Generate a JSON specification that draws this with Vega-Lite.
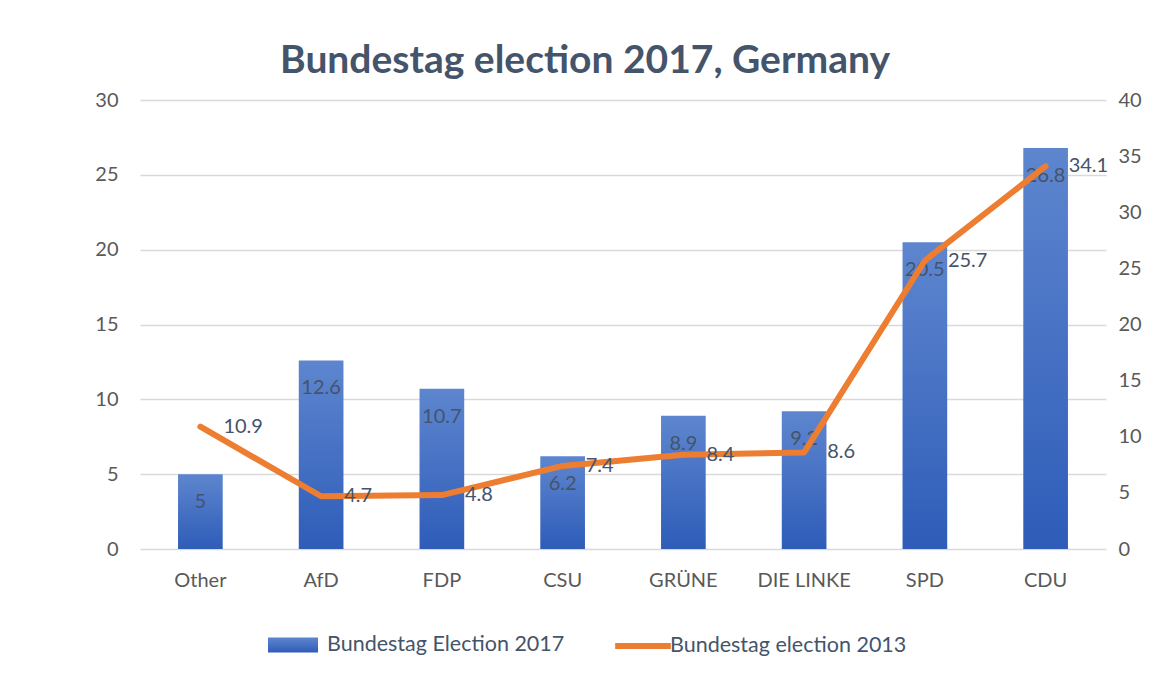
{
  "$schema": "https://vega.github.io/schema/vega-lite/v6.json",
  "autosize": {"type": "none"},
  "width": 966,
  "height": 449,
  "padding": {"left": 140, "top": 100, "right": 54, "bottom": 128},
  "background": "white",
  "config": {
    "font": "Lato",
    "view": {"stroke": null},
    "axis": {"labelFont": "Lato", "labelColor": "#595959", "labelFontSize": 20, "domain": false, "ticks": false, "title": null},
    "legend": {"labelFont": "Lato", "labelFontSize": 21.5, "labelColor": "#44546A", "labelLimit": 400, "padding": 0}
  },
  "title": {
    "text": "Bundestag election 2017, Germany",
    "fontSize": 39,
    "fontWeight": "bold",
    "color": "#44546A",
    "anchor": "middle",
    "dx": -38,
    "offset": 9
  },
  "data": {
    "values": [
      {"party": "Other", "v2017": 5, "v2013": 10.9},
      {"party": "AfD", "v2017": 12.6, "v2013": 4.7},
      {"party": "FDP", "v2017": 10.7, "v2013": 4.8},
      {"party": "CSU", "v2017": 6.2, "v2013": 7.4},
      {"party": "GRÜNE", "v2017": 8.9, "v2013": 8.4},
      {"party": "DIE LINKE", "v2017": 9.2, "v2013": 8.6},
      {"party": "SPD", "v2017": 20.5, "v2013": 25.7},
      {"party": "CDU", "v2017": 26.8, "v2013": 34.1}
    ]
  },
  "encoding": {
    "x": {
      "field": "party", "type": "nominal", "sort": null,
      "scale": {"paddingInner": 0.63, "paddingOuter": 0.315},
      "axis": {"labelAngle": 0, "labelPadding": 21, "grid": false}
    }
  },
  "layer": [
    {
      "layer": [
        {
          "mark": {"type": "bar", "color": {"gradient": "linear", "x1": 0, "y1": 0, "x2": 0, "y2": 1, "stops": [{"offset": 0, "color": "#5E86CF"}, {"offset": 1, "color": "#2E5CB8"}]}},
          "encoding": {
            "y": {"field": "v2017", "type": "quantitative", "scale": {"domain": [0, 30]},
              "axis": {"values": [0, 5, 10, 15, 20, 25, 30], "gridColor": "#D9D9D9", "gridWidth": 1.3, "labelPadding": 22, "orient": "left"}},
            "opacity": {"datum": "Bundestag Election 2017", "type": "ordinal",
              "scale": {"range": [1]},
              "legend": {"title": null, "orient": "none", "legendX": 128, "legendY": 520, "symbolType": "M-1,-0.3H1V0.3H-1Z", "symbolSize": 2500, "symbolFillColor": "#4472C4", "symbolStrokeWidth": 0, "labelOffset": 9}}
          }
        },
        {
          "mark": {"type": "text", "baseline": "top", "dy": 18, "fontSize": 20, "color": "#44546A"},
          "encoding": {
            "y": {"field": "v2017", "type": "quantitative"},
            "text": {"field": "v2017", "type": "quantitative"}
          }
        }
      ]
    },
    {
      "layer": [
        {
          "mark": {"type": "line", "color": "#ED7D31", "strokeWidth": 6, "strokeCap": "round", "strokeJoin": "round"},
          "encoding": {
            "y": {"field": "v2013", "type": "quantitative", "scale": {"domain": [0, 40]},
              "axis": {"orient": "right", "values": [0, 5, 10, 15, 20, 25, 30, 35, 40], "grid": false, "labelPadding": 12}},
            "stroke": {"datum": "Bundestag election 2013", "type": "nominal",
              "scale": {"range": ["#ED7D31"]},
              "legend": {"title": null, "orient": "none", "legendX": 472, "legendY": 515, "symbolType": "stroke", "symbolStrokeWidth": 6, "symbolSize": 3100, "labelOffset": -4}}
          }
        },
        {
          "mark": {"type": "text", "align": "left", "baseline": "middle", "dx": 23, "fontSize": 20, "color": "#44546A"},
          "encoding": {
            "y": {"field": "v2013", "type": "quantitative"},
            "text": {"field": "v2013", "type": "quantitative"}
          }
        }
      ]
    }
  ],
  "resolve": {"scale": {"y": "independent", "opacity": "independent", "stroke": "independent"}}
}
